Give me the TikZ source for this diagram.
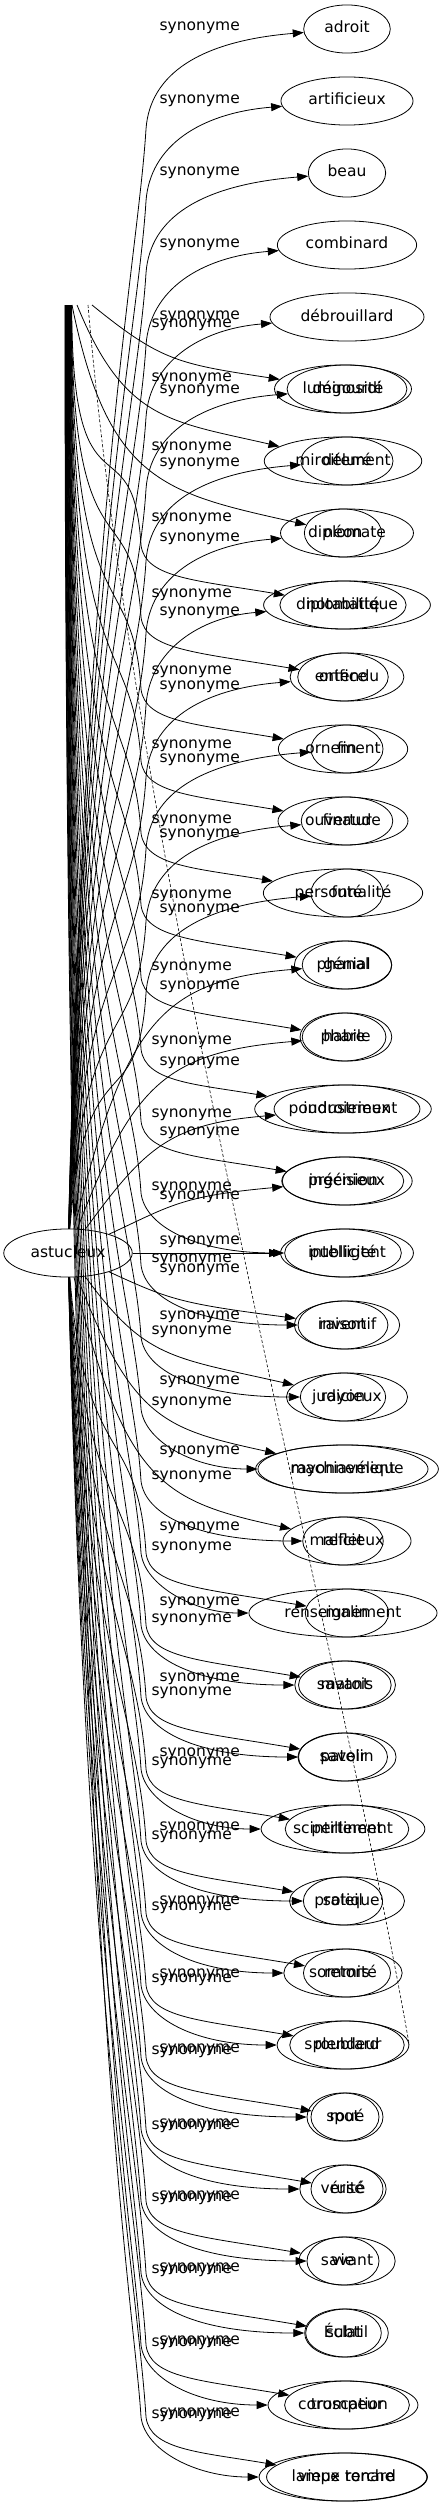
\documentclass[tikz,border=0pt]{standalone}
\usepackage{fontspec}
\setmainfont{DejaVu Sans}
\usetikzlibrary{shapes.geometric,arrows.meta}
\tikzset{
  word/.style={draw, ellipse, line width=0.8pt, inner xsep=8pt, inner ysep=9.5pt,
    text height=11.5pt, text depth=3.5pt, minimum width=72pt},
  rel/.style={anchor=east, inner sep=0pt},
  syn/.style={-{Triangle[length=11pt,width=8pt]}, line width=0.8pt},
  faint/.style={dashed, dash pattern=on 3pt off 2pt, line width=0.6pt}
}

\begin{document}
\begin{tikzpicture}[x=1pt, y=-1pt, font=\fontsize{15.5}{18}\selectfont]
\useasboundingbox (0,0) rectangle (443,2507);
\node[word] (ast) at (68,1253) {astucieux};
\foreach \w [count=\k] in {adroit, artificieux, beau, combinard, débrouillard,
  dégourdi, déluré, diplomate, diplomatique, entendu, fin, finaud, futé, génial,
  habile, industrieux, ingénieux, intelligent, inventif, judicieux, machiavélique,
  malicieux, malin, matois, patelin, pertinent, pratique, retors, roublard, roué,
  rusé, savant, subtil, trompeur, vieux renard}
  \node[word] (a\k) at (347,{29+72*(\k-1)}) {\w};
\foreach \w [count=\i] in {luminosité, miroitement, néon, notabilité, orifice,
  ornement, ouverture, personnalité, phanal, phare, poudroiement, précision,
  publicité, raison, rayon, rayonnement, reflet, renseignement, savant, savoir,
  scintillement, soleil, sommité, splendeur, spot, vérité, vie, Éclat,
  coruscation, lampe torche}{
  \pgfmathtruncatemacro\k{\i+5}
  \node[word] (b\k) at (343,{29+72*(\k-1)}) {\w};
}
\foreach \ly [count=\k] in {28,101,173,245,317,391,464,539,613,687,760,835,910,
  987,1063,1133,1197,1242,1270,1317,1382,1452,1528,1603,1679,1754,1828,1902,
  1975,2050,2125,2197,2269,2342,2414}
  \node[rel] (la\k) at (240,\ly) {synonyme};
\foreach \ly [count=\i] in {325,379,448,519,595,672,746,821,896,968,1042,1115,
  1188,1260,1332,1403,1477,1548,1620,1693,1763,1837,1908,1980,2052,2127,2199,
  2271,2344,2416}{
  \pgfmathtruncatemacro\k{\i+5}
  \node[rel] (lb\k) at (232,\ly) {synonyme};
}
\foreach \k in {1,...,35}{
  \pgfmathsetmacro\tY{29+72*(\k-1)}
  \pgfmathsetmacro\dY{\tY-1253}
  \pgfmathtruncatemacro\far{abs(\dY)>=300}
  \pgfmathsetmacro\sG{\dY<0 ? -1 : 1}
  \pgfmathsetmacro\bD{\dY<0 ? 100 : 60}
  \pgfmathsetmacro\eO{\dY<0 ? 12 : -25}
  \ifnum\k=18
    \draw[syn] (ast) -- (a\k);
  \else\ifnum\far=1
    \draw[syn] (ast) .. controls (85,{1253+0.6*\dY}) and (138,{\tY-\sG*(\bD+130)})
      .. (146,{\tY-\sG*\bD}) .. controls (150,{\tY-\sG*0.45*\bD}) and (200,{\tY+\eO}) .. (a\k);
  \else
    \pgfmathsetmacro\rR{72/(abs(\dY)+72)}
    \pgfmathsetmacro\cX{95+150*\rR}
    \pgfmathsetmacro\cY{1253+(0.9-0.5*\rR)*\dY}
    \pgfmathsetmacro\eX{150+60*\rR}
    \pgfmathsetmacro\eY{\tY+(\dY<0 ? min(15,-0.3*\dY) : -min(40,0.3*\dY))}
    \draw[syn] (ast) .. controls (\cX,\cY) and (\eX,\eY) .. (a\k);
  \fi\fi
}
\foreach \k in {6,...,35}{
  \pgfmathsetmacro\tY{29+72*(\k-1)}
  \pgfmathsetmacro\xO{\k==6 ? 92 : (\k==7 ? 77 : 72-0.26*(\k-8))}
  \coordinate (s\k) at (\xO,305);
  \pgfmathsetmacro\dY{\tY-305}
  \pgfmathtruncatemacro\far{\dY>=300}
  \pgfmathsetmacro\eO{\k<18 ? -25 : 0}
  \ifnum\far=1
    \draw[syn] (s\k) .. controls (\xO,{305+0.75*\dY}) and (133,{\tY-190})
      .. (141,{\tY-60}) .. controls (145,{\tY-27}) and (195,{\tY+\eO}) .. (b\k);
  \else
    \pgfmathsetmacro\rR{72/(\dY+72)}
    \pgfmathsetmacro\cX{\xO+150*\rR}
    \pgfmathsetmacro\cY{305+(0.9-0.5*\rR)*\dY}
    \pgfmathsetmacro\eX{150+60*\rR}
    \pgfmathsetmacro\eY{\tY-min(40,0.3*\dY)}
    \draw[syn] (s\k) .. controls (\cX,\cY) and (\eX,\eY) .. (b\k);
  \fi
}
\coordinate (d0) at (88,305);
\draw[faint] (d0) .. controls (140,900) and (335,1620) .. (b29.east);
\end{tikzpicture}
\end{document}
